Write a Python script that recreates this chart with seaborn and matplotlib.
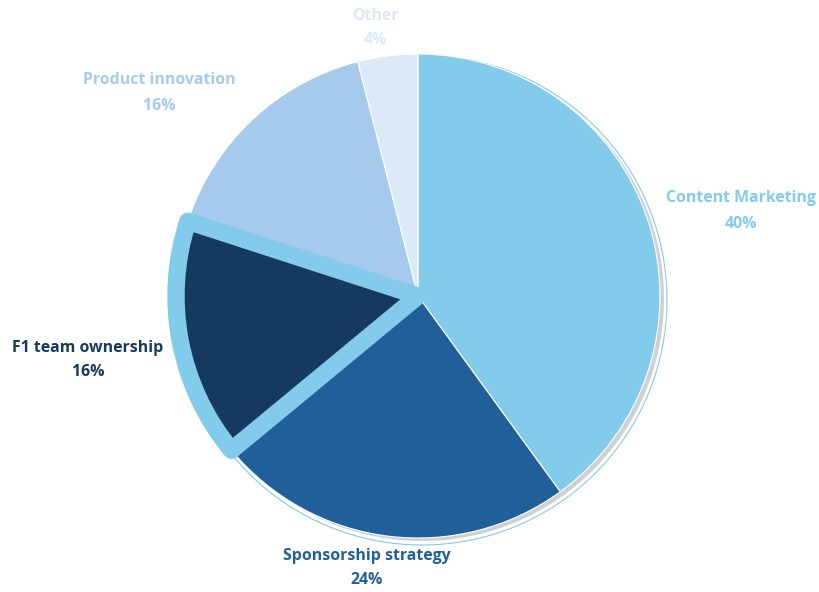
import matplotlib
matplotlib.use("Agg")
import matplotlib.pyplot as plt
from matplotlib.patches import Circle
import seaborn as sns

# Share of focus areas
categories = ["Content Marketing", "Sponsorship strategy", "F1 team ownership",
              "Product innovation", "Other"]
shares = [40, 24, 16, 16, 4]
colors = ["#83CBEB", "#215F9A", "#163A5F", "#A6CAEC", "#DCE9F7"]
highlight = "F1 team ownership"

sns.set_theme(style="white")
plt.rcParams["font.family"] = ["Open Sans", "DejaVu Sans"]

W, H = 819, 592
fig = plt.figure(figsize=(W / 100, H / 100), dpi=100)
ax = fig.add_axes([0, 0, 1, 1])

cx, cy, r = 418, 296, 242

# soft drop shadow and thin outline ring behind the pie
ax.add_patch(Circle((cx + 4, cy - 3), r, facecolor="#D0D0D0", edgecolor="none", zorder=0))
ax.add_patch(Circle((cx + 4, cy - 4), r + 3, facecolor="none", edgecolor="#83CBEB",
                    linewidth=0.8, zorder=0))

explode = [0.01 if c == highlight else 0 for c in categories]
wedges, _ = ax.pie(shares, colors=colors, startangle=90, counterclock=False,
                   center=(cx, cy), radius=r, explode=explode,
                   wedgeprops=dict(edgecolor="white", linewidth=0.8))
for w, c in zip(wedges, categories):
    w.set_zorder(2)
    if c == highlight:
        w.set_edgecolor("#83CBEB")
        w.set_linewidth(12.5)
        w.set_joinstyle("round")
        w.set_zorder(3)

ax.set_xlim(0, W)
ax.set_ylim(0, H)
ax.set_aspect("equal")
ax.axis("off")

label_pos = [(741, 381), (367, 24), (88, 232), (159, 499), (375, 564)]
for (x, y), c, v, col in zip(label_pos, categories, shares, colors):
    ax.text(x, y, f"{c}\n{v}%", ha="center", va="center", color=col,
            fontsize=11.4, fontweight="bold", linespacing=1.75)

fig.savefig("out.png", dpi=100)
